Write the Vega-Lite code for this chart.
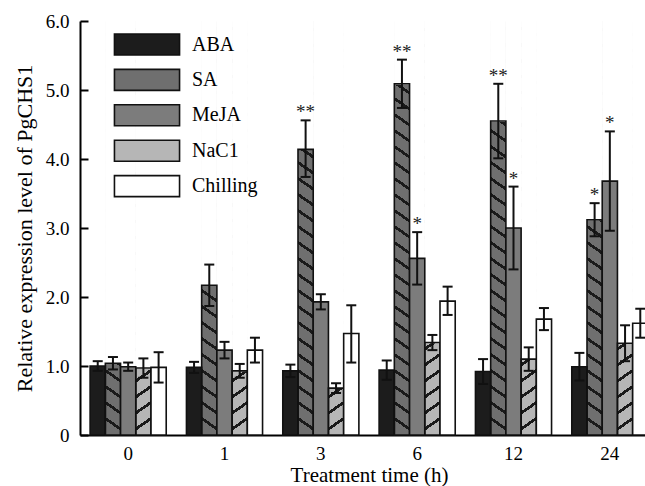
{
  "$schema": "https://vega.github.io/schema/vega-lite/v6.json",
  "width": 565,
  "height": 414,
  "autosize": {"type": "none"},
  "padding": {"left": 80, "top": 21, "right": 0, "bottom": 51},
  "background": "white",
  "config": {
    "view": {"stroke": null},
    "axis": {"labelFont": "Liberation Serif", "titleFont": "Liberation Serif", "labelColor": "black", "titleColor": "black", "domainColor": "black", "tickColor": "black", "grid": false, "titleFontWeight": "normal"},
    "legend": {"labelFont": "Liberation Serif", "labelColor": "black"},
    "text": {"font": "Liberation Serif"}
  },
  "data": {"values": [
    {"time": "0", "treatment": "ABA", "mean": 1.00, "lo": 0.93, "hi": 1.07, "sig": ""},
    {"time": "0", "treatment": "SA", "mean": 1.04, "lo": 0.95, "hi": 1.13, "sig": ""},
    {"time": "0", "treatment": "MeJA", "mean": 0.99, "lo": 0.93, "hi": 1.05, "sig": ""},
    {"time": "0", "treatment": "NaC1", "mean": 0.97, "lo": 0.83, "hi": 1.11, "sig": ""},
    {"time": "0", "treatment": "Chilling", "mean": 0.98, "lo": 0.76, "hi": 1.20, "sig": ""},
    {"time": "1", "treatment": "ABA", "mean": 0.98, "lo": 0.90, "hi": 1.06, "sig": ""},
    {"time": "1", "treatment": "SA", "mean": 2.17, "lo": 1.87, "hi": 2.47, "sig": ""},
    {"time": "1", "treatment": "MeJA", "mean": 1.23, "lo": 1.11, "hi": 1.35, "sig": ""},
    {"time": "1", "treatment": "NaC1", "mean": 0.93, "lo": 0.83, "hi": 1.03, "sig": ""},
    {"time": "1", "treatment": "Chilling", "mean": 1.23, "lo": 1.05, "hi": 1.41, "sig": ""},
    {"time": "3", "treatment": "ABA", "mean": 0.93, "lo": 0.84, "hi": 1.02, "sig": ""},
    {"time": "3", "treatment": "SA", "mean": 4.14, "lo": 3.74, "hi": 4.56, "sig": "**"},
    {"time": "3", "treatment": "MeJA", "mean": 1.93, "lo": 1.82, "hi": 2.04, "sig": ""},
    {"time": "3", "treatment": "NaC1", "mean": 0.68, "lo": 0.61, "hi": 0.75, "sig": ""},
    {"time": "3", "treatment": "Chilling", "mean": 1.47, "lo": 1.05, "hi": 1.88, "sig": ""},
    {"time": "6", "treatment": "ABA", "mean": 0.94, "lo": 0.80, "hi": 1.08, "sig": ""},
    {"time": "6", "treatment": "SA", "mean": 5.09, "lo": 4.74, "hi": 5.44, "sig": "**"},
    {"time": "6", "treatment": "MeJA", "mean": 2.56, "lo": 2.18, "hi": 2.94, "sig": "*"},
    {"time": "6", "treatment": "NaC1", "mean": 1.34, "lo": 1.23, "hi": 1.45, "sig": ""},
    {"time": "6", "treatment": "Chilling", "mean": 1.94, "lo": 1.74, "hi": 2.15, "sig": ""},
    {"time": "12", "treatment": "ABA", "mean": 0.92, "lo": 0.74, "hi": 1.10, "sig": ""},
    {"time": "12", "treatment": "SA", "mean": 4.55, "lo": 4.01, "hi": 5.09, "sig": "**"},
    {"time": "12", "treatment": "MeJA", "mean": 3.00, "lo": 2.40, "hi": 3.60, "sig": "*"},
    {"time": "12", "treatment": "NaC1", "mean": 1.10, "lo": 0.93, "hi": 1.27, "sig": ""},
    {"time": "12", "treatment": "Chilling", "mean": 1.68, "lo": 1.52, "hi": 1.84, "sig": ""},
    {"time": "24", "treatment": "ABA", "mean": 0.99, "lo": 0.79, "hi": 1.19, "sig": ""},
    {"time": "24", "treatment": "SA", "mean": 3.12, "lo": 2.88, "hi": 3.36, "sig": "*"},
    {"time": "24", "treatment": "MeJA", "mean": 3.68, "lo": 2.96, "hi": 4.40, "sig": "*"},
    {"time": "24", "treatment": "NaC1", "mean": 1.33, "lo": 1.07, "hi": 1.59, "sig": ""},
    {"time": "24", "treatment": "Chilling", "mean": 1.62, "lo": 1.41, "hi": 1.83, "sig": ""}
  ]},
  "encoding": {
    "x": {
      "field": "time", "type": "nominal",
      "sort": ["0", "1", "3", "6", "12", "24"],
      "scale": {"range": [0, 578], "paddingInner": 0.21, "paddingOuter": 0.105},
      "axis": {"title": "Treatment time (h)", "titleFontSize": 21, "titlePadding": 1, "labelAngle": 0, "labelFontSize": 19, "labelPadding": 9, "ticks": false, "domainWidth": 2}
    },
    "xOffset": {
      "field": "treatment", "type": "nominal",
      "sort": ["ABA", "SA", "MeJA", "NaC1", "Chilling"],
      "scale": {"paddingInner": 0, "paddingOuter": 0}
    }
  },
  "layer": [
    {
      "transform": [{"filter": "datum.treatment === 'SA'"}],
      "mark": {"type": "bar", "strokeWidth": 0, "fill": {"gradient": "linear", "x1": 1, "y1": 0, "x2": 0.97362, "y2": 1.02506, "stops": [
        {"offset": 0, "color": "#6f6f6f"},
        {"offset": 0.0150, "color": "#6f6f6f"}, {"offset": 0.0150, "color": "#1a1a1a"}, {"offset": 0.0230, "color": "#1a1a1a"}, {"offset": 0.0230, "color": "#6f6f6f"},
        {"offset": 0.0527, "color": "#6f6f6f"}, {"offset": 0.0527, "color": "#1a1a1a"}, {"offset": 0.0607, "color": "#1a1a1a"}, {"offset": 0.0607, "color": "#6f6f6f"},
        {"offset": 0.0904, "color": "#6f6f6f"}, {"offset": 0.0904, "color": "#1a1a1a"}, {"offset": 0.0984, "color": "#1a1a1a"}, {"offset": 0.0984, "color": "#6f6f6f"},
        {"offset": 0.1280, "color": "#6f6f6f"}, {"offset": 0.1280, "color": "#1a1a1a"}, {"offset": 0.1360, "color": "#1a1a1a"}, {"offset": 0.1360, "color": "#6f6f6f"},
        {"offset": 0.1657, "color": "#6f6f6f"}, {"offset": 0.1657, "color": "#1a1a1a"}, {"offset": 0.1737, "color": "#1a1a1a"}, {"offset": 0.1737, "color": "#6f6f6f"},
        {"offset": 0.2034, "color": "#6f6f6f"}, {"offset": 0.2034, "color": "#1a1a1a"}, {"offset": 0.2114, "color": "#1a1a1a"}, {"offset": 0.2114, "color": "#6f6f6f"},
        {"offset": 0.2411, "color": "#6f6f6f"}, {"offset": 0.2411, "color": "#1a1a1a"}, {"offset": 0.2491, "color": "#1a1a1a"}, {"offset": 0.2491, "color": "#6f6f6f"},
        {"offset": 0.2787, "color": "#6f6f6f"}, {"offset": 0.2787, "color": "#1a1a1a"}, {"offset": 0.2867, "color": "#1a1a1a"}, {"offset": 0.2867, "color": "#6f6f6f"},
        {"offset": 0.3164, "color": "#6f6f6f"}, {"offset": 0.3164, "color": "#1a1a1a"}, {"offset": 0.3244, "color": "#1a1a1a"}, {"offset": 0.3244, "color": "#6f6f6f"},
        {"offset": 0.3541, "color": "#6f6f6f"}, {"offset": 0.3541, "color": "#1a1a1a"}, {"offset": 0.3621, "color": "#1a1a1a"}, {"offset": 0.3621, "color": "#6f6f6f"},
        {"offset": 0.3918, "color": "#6f6f6f"}, {"offset": 0.3918, "color": "#1a1a1a"}, {"offset": 0.3998, "color": "#1a1a1a"}, {"offset": 0.3998, "color": "#6f6f6f"},
        {"offset": 0.4295, "color": "#6f6f6f"}, {"offset": 0.4295, "color": "#1a1a1a"}, {"offset": 0.4375, "color": "#1a1a1a"}, {"offset": 0.4375, "color": "#6f6f6f"},
        {"offset": 0.4671, "color": "#6f6f6f"}, {"offset": 0.4671, "color": "#1a1a1a"}, {"offset": 0.4751, "color": "#1a1a1a"}, {"offset": 0.4751, "color": "#6f6f6f"},
        {"offset": 0.5048, "color": "#6f6f6f"}, {"offset": 0.5048, "color": "#1a1a1a"}, {"offset": 0.5128, "color": "#1a1a1a"}, {"offset": 0.5128, "color": "#6f6f6f"},
        {"offset": 0.5425, "color": "#6f6f6f"}, {"offset": 0.5425, "color": "#1a1a1a"}, {"offset": 0.5505, "color": "#1a1a1a"}, {"offset": 0.5505, "color": "#6f6f6f"},
        {"offset": 0.5802, "color": "#6f6f6f"}, {"offset": 0.5802, "color": "#1a1a1a"}, {"offset": 0.5882, "color": "#1a1a1a"}, {"offset": 0.5882, "color": "#6f6f6f"},
        {"offset": 0.6178, "color": "#6f6f6f"}, {"offset": 0.6178, "color": "#1a1a1a"}, {"offset": 0.6258, "color": "#1a1a1a"}, {"offset": 0.6258, "color": "#6f6f6f"},
        {"offset": 0.6555, "color": "#6f6f6f"}, {"offset": 0.6555, "color": "#1a1a1a"}, {"offset": 0.6635, "color": "#1a1a1a"}, {"offset": 0.6635, "color": "#6f6f6f"},
        {"offset": 0.6932, "color": "#6f6f6f"}, {"offset": 0.6932, "color": "#1a1a1a"}, {"offset": 0.7012, "color": "#1a1a1a"}, {"offset": 0.7012, "color": "#6f6f6f"},
        {"offset": 0.7309, "color": "#6f6f6f"}, {"offset": 0.7309, "color": "#1a1a1a"}, {"offset": 0.7389, "color": "#1a1a1a"}, {"offset": 0.7389, "color": "#6f6f6f"},
        {"offset": 0.7686, "color": "#6f6f6f"}, {"offset": 0.7686, "color": "#1a1a1a"}, {"offset": 0.7766, "color": "#1a1a1a"}, {"offset": 0.7766, "color": "#6f6f6f"},
        {"offset": 0.8062, "color": "#6f6f6f"}, {"offset": 0.8062, "color": "#1a1a1a"}, {"offset": 0.8142, "color": "#1a1a1a"}, {"offset": 0.8142, "color": "#6f6f6f"},
        {"offset": 0.8439, "color": "#6f6f6f"}, {"offset": 0.8439, "color": "#1a1a1a"}, {"offset": 0.8519, "color": "#1a1a1a"}, {"offset": 0.8519, "color": "#6f6f6f"},
        {"offset": 0.8816, "color": "#6f6f6f"}, {"offset": 0.8816, "color": "#1a1a1a"}, {"offset": 0.8896, "color": "#1a1a1a"}, {"offset": 0.8896, "color": "#6f6f6f"},
        {"offset": 0.9193, "color": "#6f6f6f"}, {"offset": 0.9193, "color": "#1a1a1a"}, {"offset": 0.9273, "color": "#1a1a1a"}, {"offset": 0.9273, "color": "#6f6f6f"},
        {"offset": 0.9569, "color": "#6f6f6f"}, {"offset": 0.9569, "color": "#1a1a1a"}, {"offset": 0.9649, "color": "#1a1a1a"}, {"offset": 0.9649, "color": "#6f6f6f"},
        {"offset": 1, "color": "#6f6f6f"}
      ]}},
      "encoding": {
        "y": {"datum": 6, "type": "quantitative", "scale": {"domain": [0, 6], "nice": false}, "title": "Relative expression level of PgCHS1"},
        "y2": {"datum": 0}
      }
    },
    {
      "transform": [{"filter": "datum.treatment === 'NaC1'"}],
      "mark": {"type": "bar", "strokeWidth": 0, "fill": {"gradient": "linear", "x1": 0, "y1": 0, "x2": 0.02638, "y2": 1.02506, "stops": [
        {"offset": 0, "color": "#b6b6b6"},
        {"offset": 0.0150, "color": "#b6b6b6"}, {"offset": 0.0150, "color": "#1a1a1a"}, {"offset": 0.0230, "color": "#1a1a1a"}, {"offset": 0.0230, "color": "#b6b6b6"},
        {"offset": 0.0527, "color": "#b6b6b6"}, {"offset": 0.0527, "color": "#1a1a1a"}, {"offset": 0.0607, "color": "#1a1a1a"}, {"offset": 0.0607, "color": "#b6b6b6"},
        {"offset": 0.0904, "color": "#b6b6b6"}, {"offset": 0.0904, "color": "#1a1a1a"}, {"offset": 0.0984, "color": "#1a1a1a"}, {"offset": 0.0984, "color": "#b6b6b6"},
        {"offset": 0.1280, "color": "#b6b6b6"}, {"offset": 0.1280, "color": "#1a1a1a"}, {"offset": 0.1360, "color": "#1a1a1a"}, {"offset": 0.1360, "color": "#b6b6b6"},
        {"offset": 0.1657, "color": "#b6b6b6"}, {"offset": 0.1657, "color": "#1a1a1a"}, {"offset": 0.1737, "color": "#1a1a1a"}, {"offset": 0.1737, "color": "#b6b6b6"},
        {"offset": 0.2034, "color": "#b6b6b6"}, {"offset": 0.2034, "color": "#1a1a1a"}, {"offset": 0.2114, "color": "#1a1a1a"}, {"offset": 0.2114, "color": "#b6b6b6"},
        {"offset": 0.2411, "color": "#b6b6b6"}, {"offset": 0.2411, "color": "#1a1a1a"}, {"offset": 0.2491, "color": "#1a1a1a"}, {"offset": 0.2491, "color": "#b6b6b6"},
        {"offset": 0.2787, "color": "#b6b6b6"}, {"offset": 0.2787, "color": "#1a1a1a"}, {"offset": 0.2867, "color": "#1a1a1a"}, {"offset": 0.2867, "color": "#b6b6b6"},
        {"offset": 0.3164, "color": "#b6b6b6"}, {"offset": 0.3164, "color": "#1a1a1a"}, {"offset": 0.3244, "color": "#1a1a1a"}, {"offset": 0.3244, "color": "#b6b6b6"},
        {"offset": 0.3541, "color": "#b6b6b6"}, {"offset": 0.3541, "color": "#1a1a1a"}, {"offset": 0.3621, "color": "#1a1a1a"}, {"offset": 0.3621, "color": "#b6b6b6"},
        {"offset": 0.3918, "color": "#b6b6b6"}, {"offset": 0.3918, "color": "#1a1a1a"}, {"offset": 0.3998, "color": "#1a1a1a"}, {"offset": 0.3998, "color": "#b6b6b6"},
        {"offset": 0.4295, "color": "#b6b6b6"}, {"offset": 0.4295, "color": "#1a1a1a"}, {"offset": 0.4375, "color": "#1a1a1a"}, {"offset": 0.4375, "color": "#b6b6b6"},
        {"offset": 0.4671, "color": "#b6b6b6"}, {"offset": 0.4671, "color": "#1a1a1a"}, {"offset": 0.4751, "color": "#1a1a1a"}, {"offset": 0.4751, "color": "#b6b6b6"},
        {"offset": 0.5048, "color": "#b6b6b6"}, {"offset": 0.5048, "color": "#1a1a1a"}, {"offset": 0.5128, "color": "#1a1a1a"}, {"offset": 0.5128, "color": "#b6b6b6"},
        {"offset": 0.5425, "color": "#b6b6b6"}, {"offset": 0.5425, "color": "#1a1a1a"}, {"offset": 0.5505, "color": "#1a1a1a"}, {"offset": 0.5505, "color": "#b6b6b6"},
        {"offset": 0.5802, "color": "#b6b6b6"}, {"offset": 0.5802, "color": "#1a1a1a"}, {"offset": 0.5882, "color": "#1a1a1a"}, {"offset": 0.5882, "color": "#b6b6b6"},
        {"offset": 0.6178, "color": "#b6b6b6"}, {"offset": 0.6178, "color": "#1a1a1a"}, {"offset": 0.6258, "color": "#1a1a1a"}, {"offset": 0.6258, "color": "#b6b6b6"},
        {"offset": 0.6555, "color": "#b6b6b6"}, {"offset": 0.6555, "color": "#1a1a1a"}, {"offset": 0.6635, "color": "#1a1a1a"}, {"offset": 0.6635, "color": "#b6b6b6"},
        {"offset": 0.6932, "color": "#b6b6b6"}, {"offset": 0.6932, "color": "#1a1a1a"}, {"offset": 0.7012, "color": "#1a1a1a"}, {"offset": 0.7012, "color": "#b6b6b6"},
        {"offset": 0.7309, "color": "#b6b6b6"}, {"offset": 0.7309, "color": "#1a1a1a"}, {"offset": 0.7389, "color": "#1a1a1a"}, {"offset": 0.7389, "color": "#b6b6b6"},
        {"offset": 0.7686, "color": "#b6b6b6"}, {"offset": 0.7686, "color": "#1a1a1a"}, {"offset": 0.7766, "color": "#1a1a1a"}, {"offset": 0.7766, "color": "#b6b6b6"},
        {"offset": 0.8062, "color": "#b6b6b6"}, {"offset": 0.8062, "color": "#1a1a1a"}, {"offset": 0.8142, "color": "#1a1a1a"}, {"offset": 0.8142, "color": "#b6b6b6"},
        {"offset": 0.8439, "color": "#b6b6b6"}, {"offset": 0.8439, "color": "#1a1a1a"}, {"offset": 0.8519, "color": "#1a1a1a"}, {"offset": 0.8519, "color": "#b6b6b6"},
        {"offset": 0.8816, "color": "#b6b6b6"}, {"offset": 0.8816, "color": "#1a1a1a"}, {"offset": 0.8896, "color": "#1a1a1a"}, {"offset": 0.8896, "color": "#b6b6b6"},
        {"offset": 0.9193, "color": "#b6b6b6"}, {"offset": 0.9193, "color": "#1a1a1a"}, {"offset": 0.9273, "color": "#1a1a1a"}, {"offset": 0.9273, "color": "#b6b6b6"},
        {"offset": 0.9569, "color": "#b6b6b6"}, {"offset": 0.9569, "color": "#1a1a1a"}, {"offset": 0.9649, "color": "#1a1a1a"}, {"offset": 0.9649, "color": "#b6b6b6"},
        {"offset": 1, "color": "#b6b6b6"}
      ]}},
      "encoding": {
        "y": {"datum": 6, "type": "quantitative", "scale": {"domain": [0, 6], "nice": false}, "title": "Relative expression level of PgCHS1"},
        "y2": {"datum": 0}
      }
    },
    {
      "transform": [{"filter": "datum.treatment === 'SA' || datum.treatment === 'NaC1'"}],
      "mark": {"type": "bar", "fill": "white", "stroke": "white", "strokeWidth": 1.2},
      "encoding": {
        "y": {"field": "mean", "type": "quantitative", "scale": {"domain": [0, 6], "nice": false}, "title": "Relative expression level of PgCHS1"},
        "y2": {"datum": 6}
      }
    },
    {
      "mark": {"type": "bar", "stroke": "#111111", "strokeWidth": 1.6},
      "encoding": {
        "y": {
          "field": "mean", "type": "quantitative",
          "scale": {"domain": [0, 6], "nice": false},
          "title": "Relative expression level of PgCHS1",
          "axis": {"values": [0, 1, 2, 3, 4, 5, 6], "labelExpr": "datum.value === 0 ? '0' : format(datum.value, '.1f')", "labelFontSize": 19, "titleFontSize": 22, "tickSize": -8, "tickWidth": 2, "domainWidth": 2, "labelPadding": 19, "titlePadding": 9}
        },
        "fill": {
          "field": "treatment", "type": "nominal",
          "scale": {"domain": ["ABA", "SA", "MeJA", "NaC1", "Chilling"], "range": ["#1c1c1c", "#6f6f6f", "#7c7c7c", "#b6b6b6", "#ffffff"]},
          "legend": {
            "orient": "none", "legendX": 55.5, "legendY": 12, "title": null, "padding": 0,
            "symbolType": "M-3.1,-1H3.1V1H-3.1Z", "symbolSize": 441,
            "symbolStrokeColor": "#111111", "symbolStrokeWidth": 1.6,
            "labelFontSize": 20, "labelOffset": 33.5, "rowPadding": 6.4,
            "encode": {"symbols": {"update": {
              "stroke": {"value": "#111111"},
              "strokeWidth": {"value": 1.6}
            }}}
          }
        },
        "fillOpacity": {"condition": {"test": "datum.treatment === 'SA' || datum.treatment === 'NaC1'", "value": 0}, "value": 1}
      }
    },
    {
      "mark": {"type": "rule", "color": "#111111", "strokeWidth": 2},
      "encoding": {
        "y": {"field": "lo", "type": "quantitative", "scale": {"domain": [0, 6], "nice": false}, "title": "Relative expression level of PgCHS1"},
        "y2": {"field": "hi"}
      }
    },
    {
      "mark": {"type": "tick", "orient": "horizontal", "color": "#111111", "size": 10, "thickness": 2, "opacity": 1},
      "encoding": {
        "y": {"field": "hi", "type": "quantitative", "scale": {"domain": [0, 6], "nice": false}, "title": "Relative expression level of PgCHS1"}
      }
    },
    {
      "mark": {"type": "tick", "orient": "horizontal", "color": "#111111", "size": 10, "thickness": 2, "opacity": 1},
      "encoding": {
        "y": {"field": "lo", "type": "quantitative", "scale": {"domain": [0, 6], "nice": false}, "title": "Relative expression level of PgCHS1"}
      }
    },
    {
      "transform": [{"filter": "datum.sig !== ''"}],
      "mark": {"type": "text", "baseline": "alphabetic", "dy": -2, "fontSize": 19, "color": "#222222"},
      "encoding": {
        "y": {"field": "hi", "type": "quantitative", "scale": {"domain": [0, 6], "nice": false}, "title": "Relative expression level of PgCHS1"},
        "text": {"field": "sig"}
      }
    }
  ]
}
